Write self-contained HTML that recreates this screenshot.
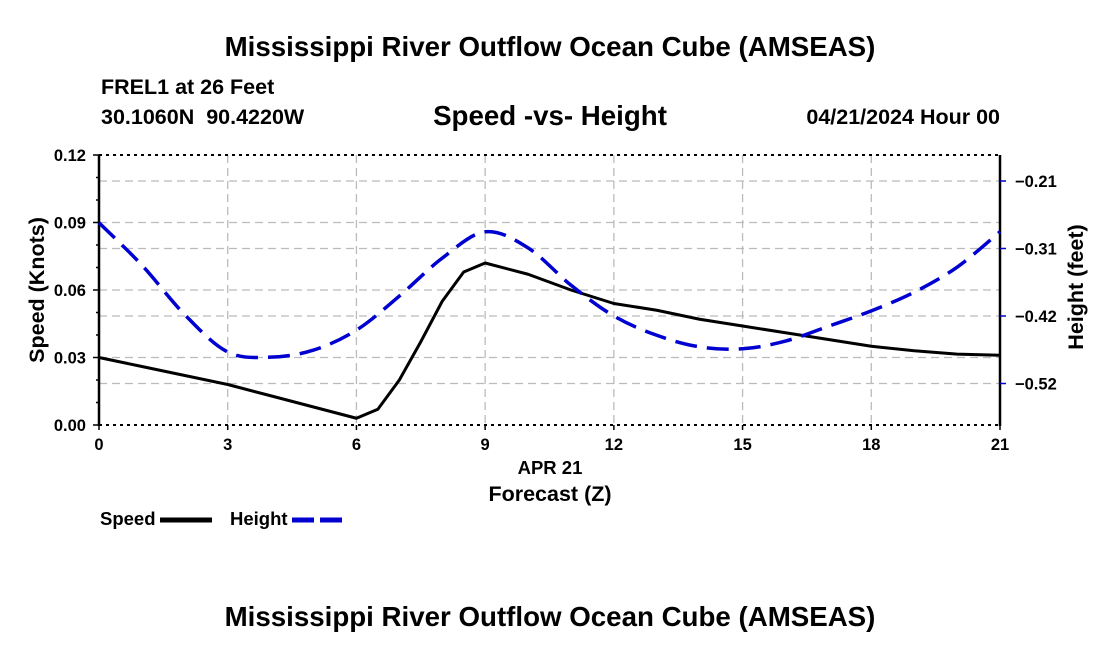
<!DOCTYPE html>
<html><head><meta charset="utf-8"><style>
body{margin:0;background:#fff;}
svg text{font-family:"Liberation Sans",Arial,sans-serif;font-weight:bold;fill:#000;}
</style></head><body>
<svg id="chart" width="1100" height="650" viewBox="0 0 1100 650" xmlns="http://www.w3.org/2000/svg">
<text x="550" y="56" font-size="27.7" text-anchor="middle">Mississippi River Outflow Ocean Cube (AMSEAS)</text>
<text x="101" y="94" font-size="21.5">FREL1 at 26 Feet</text>
<text x="101" y="124" font-size="21.5" xml:space="preserve">30.1060N  90.4220W</text>
<text x="550" y="125" font-size="27.7" text-anchor="middle">Speed -vs- Height</text>
<text x="1000" y="124" font-size="21.5" text-anchor="end">04/21/2024 Hour 00</text>
<g id="grid"></g>
<g id="axes"></g>
<g id="series"></g>
<text x="550" y="474" font-size="18.5" text-anchor="middle">APR 21</text>
<text x="550" y="501" font-size="21.5" text-anchor="middle">Forecast (Z)</text>
<text transform="translate(44,290) rotate(-90)" font-size="21.5" text-anchor="middle">Speed (Knots)</text>
<text transform="translate(1083,287) rotate(-90)" font-size="21.5" text-anchor="middle">Height (feet)</text>
<g>
<text x="100" y="525" font-size="18.5">Speed</text>
<line x1="160" y1="520" x2="212" y2="520" stroke="#000" stroke-width="5"/>
<text x="230" y="525" font-size="18.5">Height</text>
<line x1="292" y1="520" x2="344" y2="520" stroke="#0000d0" stroke-width="5" stroke-dasharray="22,6"/>
</g>
<text x="550" y="626" font-size="27.7" text-anchor="middle">Mississippi River Outflow Ocean Cube (AMSEAS)</text>
</svg>
<script>
const speedHours=[0,1,2,3,4,5,6,6.5,7,7.5,8,8.5,9,10,11,12,13,14,15,16,17,18,19,20,21];
const speedValues=[0.030,0.026,0.022,0.018,0.013,0.008,0.003,0.007,0.020,0.037,0.055,0.068,0.072,0.067,0.060,0.054,0.051,0.047,0.044,0.041,0.038,0.035,0.033,0.0315,0.031];
const heightHours=[0,1,2,3,4,5,6,7,8,9,10,11,12,13,14,15,16,17,18,19,20,21];
const heightValues=[-0.275,-0.341,-0.418,-0.476,-0.484,-0.473,-0.442,-0.389,-0.330,-0.289,-0.314,-0.372,-0.420,-0.450,-0.468,-0.471,-0.459,-0.436,-0.412,-0.383,-0.344,-0.289];
const xTicks=[0,3,6,9,12,15,18,21];
const leftTicks=[0,0.03,0.06,0.09,0.12];
const leftTickLabels=["0.00","0.03","0.06","0.09","0.12"];
const rightTicks=[-0.21,-0.315,-0.42,-0.525];
const rightTickLabels=["\u22120.21","\u22120.31","\u22120.42","\u22120.52"];

const X0=99,X1=1000,Y0=425,Y1=155;
const xs=h=>X0+(h/21)*(X1-X0);
const ys=v=>Y0-(v/0.12)*(Y0-Y1);
const yh=v=>181+(-0.21-v)/0.105*67.5;
const NS="http://www.w3.org/2000/svg";
function mk(tag,attrs,parent){const e=document.createElementNS(NS,tag);for(const k in attrs)e.setAttribute(k,attrs[k]);parent.appendChild(e);return e;}
const grid=document.getElementById('grid'),axes=document.getElementById('axes'),series=document.getElementById('series');
const gs={stroke:"#bbb","stroke-width":1.3,"stroke-dasharray":"8,5"};
xTicks.forEach(t=>{if(t===0||t===21)return;const l=mk('line',Object.assign({x1:xs(t),x2:xs(t),y1:Y1,y2:Y0},gs),grid);

});
leftTicks.forEach(t=>{if(t===0||t===0.12)return;const l=mk('line',Object.assign({x1:X0,x2:X1,y1:ys(t),y2:ys(t)},gs),grid);

});
rightTicks.forEach(t=>{const l=mk('line',Object.assign({x1:X0,x2:X1,y1:yh(t),y2:yh(t)},gs),grid);

});
mk('line',{x1:X0,x2:X1,y1:Y1,y2:Y1,stroke:"#000","stroke-width":2,"stroke-dasharray":"3,4"},axes);
mk('line',{x1:X0,x2:X1,y1:Y0,y2:Y0,stroke:"#000","stroke-width":2,"stroke-dasharray":"3,4"},axes);
mk('line',{x1:X0,x2:X0,y1:Y1,y2:Y0+1,stroke:"#000","stroke-width":2.5},axes);
mk('line',{x1:X1,x2:X1,y1:Y1,y2:Y0+1,stroke:"#000","stroke-width":2.5},axes);
for(let v=0;v<=0.1201;v+=0.01){mk('line',{x1:X0-(Math.round(v*100)%3===0?6:3),x2:X0,y1:ys(v),y2:ys(v),stroke:"#000","stroke-width":1.5},axes);}
leftTicks.forEach((t,i)=>{const tx=mk('text',{x:X0-13,y:ys(t)+6,"font-size":16.5,"text-anchor":"end"},axes);tx.textContent=leftTickLabels[i];

});
rightTicks.forEach((t,i)=>{mk('line',{x1:X1,x2:X1+6,y1:yh(t),y2:yh(t),stroke:"#0000d0","stroke-width":1.5},axes);
const tx=mk('text',{x:X1+15,y:yh(t)+6,"font-size":16.5},axes);tx.textContent=rightTickLabels[i];

});
xTicks.forEach(t=>{mk('line',{x1:xs(t),x2:xs(t),y1:Y0,y2:Y0+5,stroke:"#000","stroke-width":1.5},axes);
const tx=mk('text',{x:xs(t),y:Y0+25,"font-size":16.5,"text-anchor":"middle"},axes);tx.textContent=t;

});
const sp=mk('polyline',{points:speedHours.map((h,i)=>xs(h)+","+ys(speedValues[i])).join(" "),fill:"none",stroke:"#000","stroke-width":3,"stroke-linejoin":"round"},series);


const P=heightHours.map((h,i)=>[xs(h),yh(heightValues[i])]);
let d="M"+P[0][0]+","+P[0][1];
for(let i=0;i<P.length-1;i++){const p0=P[Math.max(i-1,0)],p1=P[i],p2=P[i+1],p3=P[Math.min(i+2,P.length-1)];
d+=" C"+(p1[0]+(p2[0]-p0[0])/6)+","+(p1[1]+(p2[1]-p0[1])/6)+" "+(p2[0]-(p3[0]-p1[0])/6)+","+(p2[1]-(p3[1]-p1[1])/6)+" "+p2[0]+","+p2[1];}
const hp=mk('path',{d:d,fill:"none",stroke:"#0000d0","stroke-width":3.5,"stroke-dasharray":"22,10"},series);


</script>
</body></html>
